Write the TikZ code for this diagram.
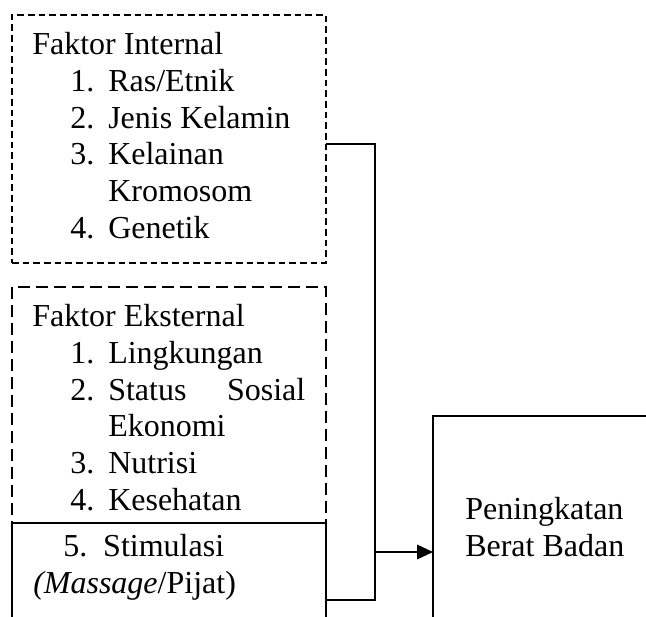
\documentclass[tikz,border=0pt]{standalone}
\usepackage{fontspec}
\setmainfont{Liberation Serif}
\usetikzlibrary{arrows.meta, positioning}

\newcommand{\faktoritem}[2]{\hspace*{28.5pt}\makebox[28.5pt][l]{#1}#2}
\newcommand{\faktorcont}[1]{\hspace*{57pt}#1}

\begin{document}
\begin{tikzpicture}[
    x=0.75pt, y=-0.75pt,
    box/.style={
        rectangle, draw=black, line width=1.2pt,
        outer sep=0pt, inner sep=0pt,
        minimum width=235.5pt,
        anchor=north west
    },
    dashboxA/.style={box, dash pattern=on 5pt off 3pt},
    dashboxB/.style={box, dash pattern=on 9pt off 4.5pt},
    txt/.style={
        inner sep=0pt, anchor=base west, align=left,
        font=\fontsize{24}{27.5}\selectfont
    },
    line/.style={line width=1.2pt},
    arrow/.style={-{Triangle[length=12pt,width=11pt]}, line width=1.2pt}
]
\useasboundingbox (0,0) rectangle (646,617);
\clip (0,0) rectangle (646,617);

% boxes
\node[dashboxA, minimum height=186pt] (internal) at (12,15) {};
\node[dashboxB, minimum height=177pt] (eksternal) at (12,287) {};
\node[box, minimum height=117.75pt] (stimulasi) at (12,523) {};
\node[box, minimum width=215.25pt, minimum height=204pt] (hasil) at (433,416) {};

% texts (placed at the baseline of their last line)
\node[txt] (txtinternal) at (32,238) {Faktor Internal\\
    \faktoritem{1.}{Ras/Etnik}\\
    \faktoritem{2.}{Jenis Kelamin}\\
    \faktoritem{3.}{Kelainan}\\
    \faktorcont{Kromosom}\\
    \faktoritem{4.}{Genetik}};
\node[txt] (txteksternal) at (32,510) {Faktor Eksternal\\
    \faktoritem{1.}{Lingkungan}\\
    \faktoritem{2.}{\makebox[147.75pt][s]{Status Sosial}}\\
    \faktorcont{Ekonomi}\\
    \faktoritem{3.}{Nutrisi}\\
    \faktoritem{4.}{Kesehatan}};
\node[txt] (txtstimulasi) at (33,593) {\hspace*{22.5pt}\makebox[30pt][l]{5.}Stimulasi\\
    \textit{(Massage}/Pijat)};
\node[txt] (txthasil) at (465,556) {Peningkatan\\Berat Badan};

% connectors
\coordinate (jtop) at (375,144);
\coordinate (jbot) at (375,600);
\draw[line] (internal.east |- jtop) -- (jtop) -- (jbot) -- (stimulasi.east |- jbot);
\draw[arrow] (jtop |- hasil.west) -- (hasil.west);

\end{tikzpicture}
\end{document}
